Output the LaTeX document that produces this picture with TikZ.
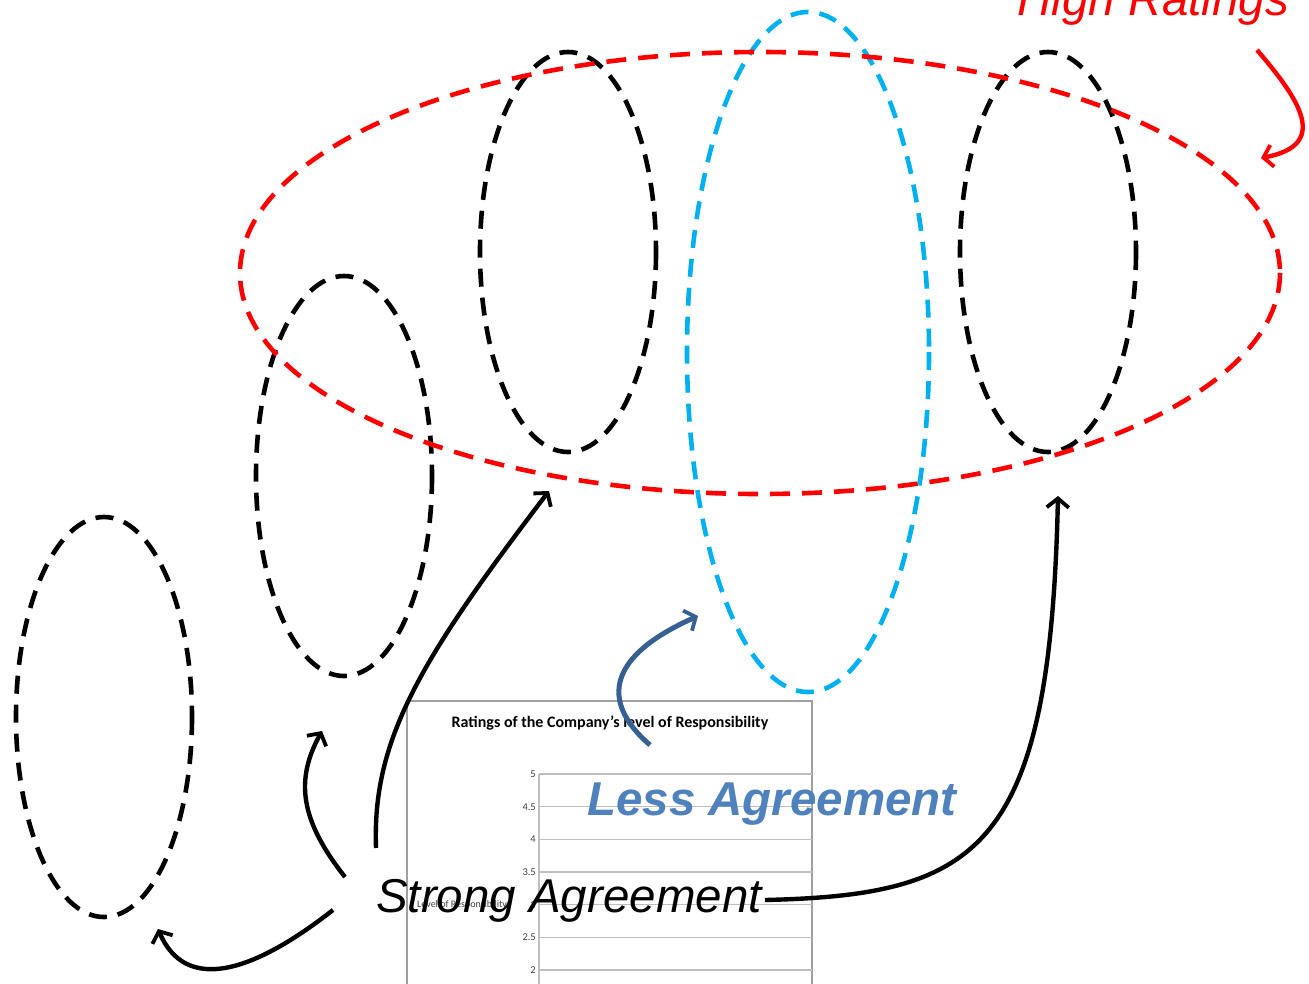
\documentclass[tikz,border=0pt]{standalone}
\usepackage{fontspec}
\setmainfont{Liberation Sans}
\newfontfamily\chartfont{Carlito}
\usetikzlibrary{arrows.meta}
\definecolor{hired}{RGB}{255,0,0}
\definecolor{skyblue}{RGB}{0,176,240}
\definecolor{lessblue}{RGB}{79,129,189}
\definecolor{arrowblue}{RGB}{54,96,146}
\definecolor{gridgrey}{RGB}{190,190,190}
\definecolor{boxgrey}{RGB}{160,160,160}
\definecolor{ticktext}{RGB}{64,64,64}
\tikzset{
  group/.style={line width=4.6pt, dash pattern=on 18pt off 11pt},
  pointer/.style={line width=4.4pt, -{Straight Barb[length=9pt,width=22pt,line width=3.8pt]}},
  bigtext/.style={font=\fontsize{47.5}{47.5}\selectfont\itshape, inner sep=0pt, anchor=base west},
  tick/.style={font=\chartfont\fontsize{10.5}{10.5}\selectfont, text=ticktext, anchor=east, inner sep=1pt},
  gridline/.style={gridgrey, line width=1.4pt},
}
\begin{document}
\begin{tikzpicture}[x=1pt,y=-1pt]
\useasboundingbox (0,0) rectangle (1309,983);
\clip (0,0) rectangle (1309,983);

% chart in the background
\draw[boxgrey, line width=1.2pt] (407,701) rectangle (812,1000);
\node[font=\chartfont\bfseries\fontsize{16}{16}\selectfont, inner sep=0pt] (title) at (610,723) {Ratings of the Company’s level of Responsibility};
\foreach \v/\yy in {5/774,4.5/806.7,4/839.3,3.5/872,3/904.7,2.5/937.3,2/970} {
  \draw[gridline] (539,\yy) -- (812,\yy);
  \node[tick] at (537,\yy) {\v};
}
\draw[gridline] (539,774) -- (539,1000);
\node[font=\chartfont\fontsize{10}{10}\selectfont, text=ticktext, anchor=west, inner sep=0pt] (ylabel) at (417,905) {Level of Responsibility};

% rating groups
\draw[group] (104,717) ellipse [x radius=88, y radius=200];
\draw[group] (344,476) ellipse [x radius=88, y radius=200];
\draw[group] (568,252) ellipse [x radius=88, y radius=200];
\draw[group] (1048,252) ellipse [x radius=88, y radius=200];
\draw[group, skyblue] (808,352) ellipse [x radius=121, y radius=340];
\draw[group, hired, dash pattern=on 20pt off 12pt] (760,273) ellipse [x radius=520, y radius=221];

% labels
\node[bigtext, text=hired] (high) at (1017,15) {High Ratings};
\node[bigtext] (strong) at (376,912) {Strong Agreement};
\node[bigtext, text=lessblue, font=\fontsize{47.5}{47.5}\selectfont\bfseries\itshape] (less) at (587,815) {Less Agreement};

% arrow targets
\coordinate (t1) at (158,929);
\coordinate (t2) at (322,731);
\coordinate (t3) at (549,491);
\coordinate (t4) at (1058,496);
\coordinate (tb) at (698,616);
\coordinate (tr) at (1261,158);
\coordinate (s1) at (333,910);
\coordinate (s2) at (345,877);
\coordinate (s3) at (376,848);
\coordinate (s4) at (765,900);
\coordinate (sb) at (650,745);
\coordinate (sr) at (1257,50);

% arrows
\draw[pointer] (s1) .. controls (250,975) and (185,992) .. (t1);
\draw[pointer] (s2) .. controls (300,820) and (295,780) .. (t2);
\draw[pointer] (s3) .. controls (372,740) and (420,660) .. (t3);
\draw[pointer] (s4) .. controls (980,895) and (1050,850) .. (t4);
\draw[pointer, arrowblue, line width=5pt] (sb) .. controls (598,700) and (610,655) .. (tb);
\draw[pointer, hired] (sr) .. controls (1300,100) and (1330,145) .. (tr);
\end{tikzpicture}
\end{document}
